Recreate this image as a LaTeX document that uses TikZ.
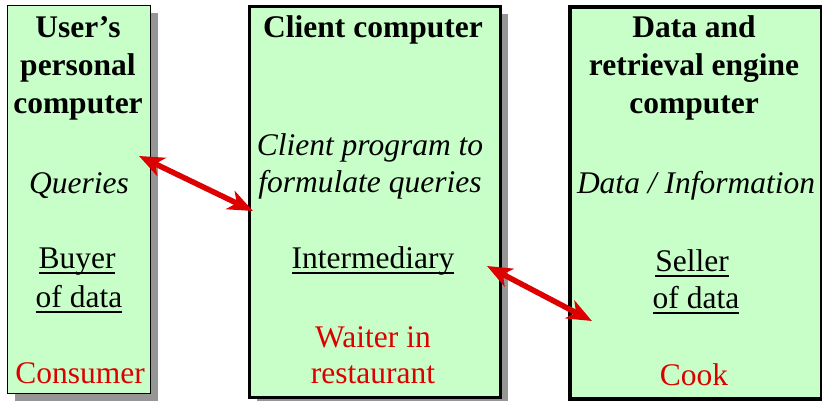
\documentclass[tikz,border=0pt]{standalone}
\usepackage{fontspec}
\setmainfont{Liberation Serif}
\usetikzlibrary{arrows.meta,shadows}
\definecolor{boxgreen}{RGB}{200,255,200}
\definecolor{arrowred}{RGB}{221,0,0}
\definecolor{shadowgray}{RGB}{150,150,150}
% underline drawn at a fixed distance below the baseline
\newcommand\ulbar[1]{\sbox0{#1}\rlap{\rule[-5.5pt]{\wd0}{1.8pt}}\usebox0}
\begin{document}
\begin{tikzpicture}[x=1pt,y=-1pt,
  panel/.style={draw=black, fill=boxgreen, anchor=north west, inner sep=0pt,
    drop shadow={shadow xshift=7pt,shadow yshift=-7pt,fill=shadowgray,opacity=1}},
  txt/.style={anchor=base, inner sep=0pt, font=\fontsize{31.5}{38}\selectfont},
  head/.style={txt, font=\fontsize{31.5}{38}\selectfont\bfseries},
  ital/.style={txt, font=\fontsize{31.5}{38}\selectfont\itshape},
  role/.style={txt, text=arrowred},
  tip/.style={Stealth[length=25pt,width=20pt,inset=7pt]},
  link/.style={draw=arrowred, line width=5.5pt, {Stealth[length=25pt,width=20pt,inset=7pt]}-{Stealth[length=25pt,width=20pt,inset=7pt]}}
]
\useasboundingbox (0,0) rectangle (822,400);

% the three computers
\node[panel, line width=1.2pt, minimum width=143pt, minimum height=388pt] (user) at (7,5) {};
\node[panel, line width=3pt, minimum width=251pt, minimum height=391pt] (client) at (248,5) {};
\node[panel, line width=4pt, minimum width=252pt, minimum height=392pt] (engine) at (568,5) {};

% user's personal computer
\node[head] (u1) at (78,37) {User’s};
\node[head] (u2) at (78,75) {personal};
\node[head] (u3) at (78,113) {computer};
\node[ital] (u4) at (79,193) {Queries};
\node[txt] (u5) at (77,268) {\ulbar{Buyer}};
\node[txt] (u6) at (79,307) {\ulbar{of data}};
\node[role] (u7) at (80,383) {Consumer};

% client computer
\node[head] (c1) at (373,37) {Client computer};
\node[ital] (c2) at (370,155) {Client program to};
\node[ital] (c3) at (370,192) {formulate queries};
\node[txt] (c4) at (373,268) {\ulbar{Intermediary}};
\node[role] (c5) at (373,347) {Waiter in};
\node[role] (c6) at (373,383) {restaurant};

% data and retrieval engine computer
\node[head] (e1) at (694,37) {Data and};
\node[head] (e2) at (694,75) {retrieval engine};
\node[head] (e3) at (694,113) {computer};
\node[ital] (e4) at (696,193) {Data / Information};
\node[txt] (e5) at (692,271) {\ulbar{Seller}};
\node[txt] (e6) at (696,308) {\ulbar{of data}};
\node[role] (e7) at (694,385) {Cook};

% exchanges between the machines
\coordinate (a1) at (139,156);
\coordinate (a2) at (253,211);
\coordinate (b1) at (487,266);
\coordinate (b2) at (592,321);
\draw[link] (a1) -- (a2);
\draw[link] (b1) -- (b2);
\end{tikzpicture}
\end{document}
